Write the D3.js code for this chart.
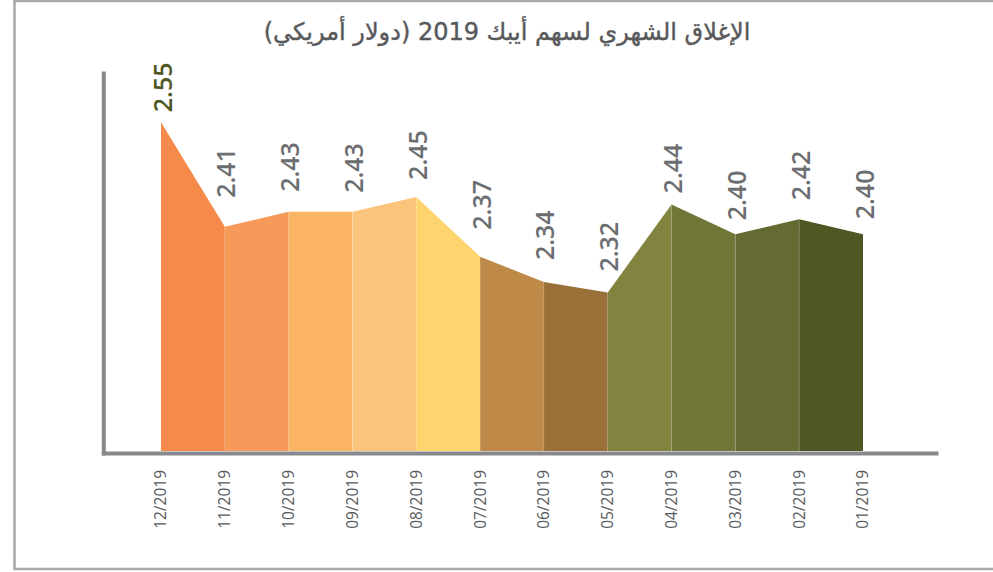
<!DOCTYPE html>
<html>
<head>
<meta charset="utf-8">
<script src="https://cdn.jsdelivr.net/npm/d3@7"></script>
<style>
  body { margin: 0; background: #fff; }
  svg { display: block; }
</style>
</head>
<body>
<div id="chart"></div>
<script>
// Monthly close, newest month first (as in the original layout)
var months = ["12/2019", "11/2019", "10/2019", "09/2019", "08/2019", "07/2019",
              "06/2019", "05/2019", "04/2019", "03/2019", "02/2019", "01/2019"];
var closes = [2.55, 2.41, 2.43, 2.43, 2.45, 2.37, 2.336, 2.322, 2.44, 2.40, 2.42, 2.40];

// one fill for each band between two months
var bandColors = ["#F58A4B", "#F59A58", "#FBB463", "#FBC47D", "#FED46E", "#BF8A48",
                  "#9A7038", "#82833F", "#717537", "#656A32", "#4F5725"];

// gap between the point and its rotated value label (labels were nudged by hand)
var labelGap = [10, 29, 20, 19, 17, 27, 22, 21, 11, 14, 19, 15];

var width = 993, height = 572;
var baseY = 451;

var svg = d3.select("#chart").append("svg")
    .attr("width", width)
    .attr("height", height);

// outer frame (right edge falls off the canvas)
svg.append("rect")
    .attr("x", 14.5).attr("y", 1)
    .attr("width", 1000).attr("height", 568)
    .attr("fill", "none")
    .attr("stroke", "#A7A8AB")
    .attr("stroke-width", 2.5);

svg.append("text")
    .attr("x", 507).attr("y", 40)
    .attr("text-anchor", "middle")
    .attr("direction", "rtl")
    .style("font-family", "'DejaVu Sans', sans-serif")
    .style("font-size", "24px")
    .style("fill", "#58595B")
    .style("stroke", "#58595B")
    .style("stroke-width", 0.4)
    .text("الإغلاق الشهري لسهم أيبك 2019 (دولار أمريكي)");

var x = d3.scalePoint()
    .domain(months)
    .range([161, 863]);

var y = d3.scaleLinear()
    .domain([2.11, 2.55])
    .range([baseY, baseY - 0.44 * 747.3]);

var rows = months.map(function(m, i) { return { month: m, close: closes[i] }; });

var area = d3.area()
    .x(function(d) { return x(d.month); })
    .y0(baseY)
    .y1(function(d) { return y(d.close); });

// one area piece per pair of neighbouring months
var bands = d3.pairs(rows);
svg.append("g").selectAll("path")
    .data(bands)
    .enter().append("path")
    .attr("d", function(d) { return area(d); })
    .attr("fill", function(d, i) { return bandColors[i]; });

// faint seams between bands
svg.append("g").selectAll("line")
    .data(rows.slice(1, -1))
    .enter().append("line")
    .attr("x1", function(d) { return x(d.month); })
    .attr("x2", function(d) { return x(d.month); })
    .attr("y1", baseY)
    .attr("y2", function(d) { return y(d.close); })
    .attr("stroke", "#fff")
    .attr("stroke-opacity", 0.15)
    .attr("stroke-width", 0.8);

// axes lines
svg.append("line")
    .attr("x1", 103.8).attr("x2", 103.8)
    .attr("y1", 71.5).attr("y2", 455.5)
    .attr("stroke", "#88898C")
    .attr("stroke-width", 4);

svg.append("line")
    .attr("x1", 101.8).attr("x2", 938.5)
    .attr("y1", 453.5).attr("y2", 453.5)
    .attr("stroke", "#88898C")
    .attr("stroke-width", 4);

// month labels
svg.append("g").selectAll("text")
    .data(rows)
    .enter().append("text")
    .attr("transform", function(d) { return "translate(" + x(d.month) + ",470) rotate(-90)"; })
    .attr("text-anchor", "end")
    .attr("dy", "0.35em")
    .style("font-family", "'Open Sans', sans-serif")
    .style("font-size", "15.5px")
    .style("fill", "#58595B")
    .text(function(d) { return d.month; });

// value labels
svg.append("g").selectAll("text")
    .data(rows)
    .enter().append("text")
    .attr("transform", function(d, i) {
      return "translate(" + (x(d.month) + 1.5) + "," + (y(d.close) - labelGap[i]) + ") rotate(-90)";
    })
    .attr("text-anchor", "start")
    .attr("dy", "0.36em")
    .style("font-family", "'Open Sans', sans-serif")
    .style("font-weight", 600)
    .style("font-size", "25px")
    .style("fill", function(d, i) { return i === 0 ? "#4F5725" : "#6D6E71"; })
    .text(function(d) { return d3.format(".2f")(d.close); });
</script>
</body>
</html>
